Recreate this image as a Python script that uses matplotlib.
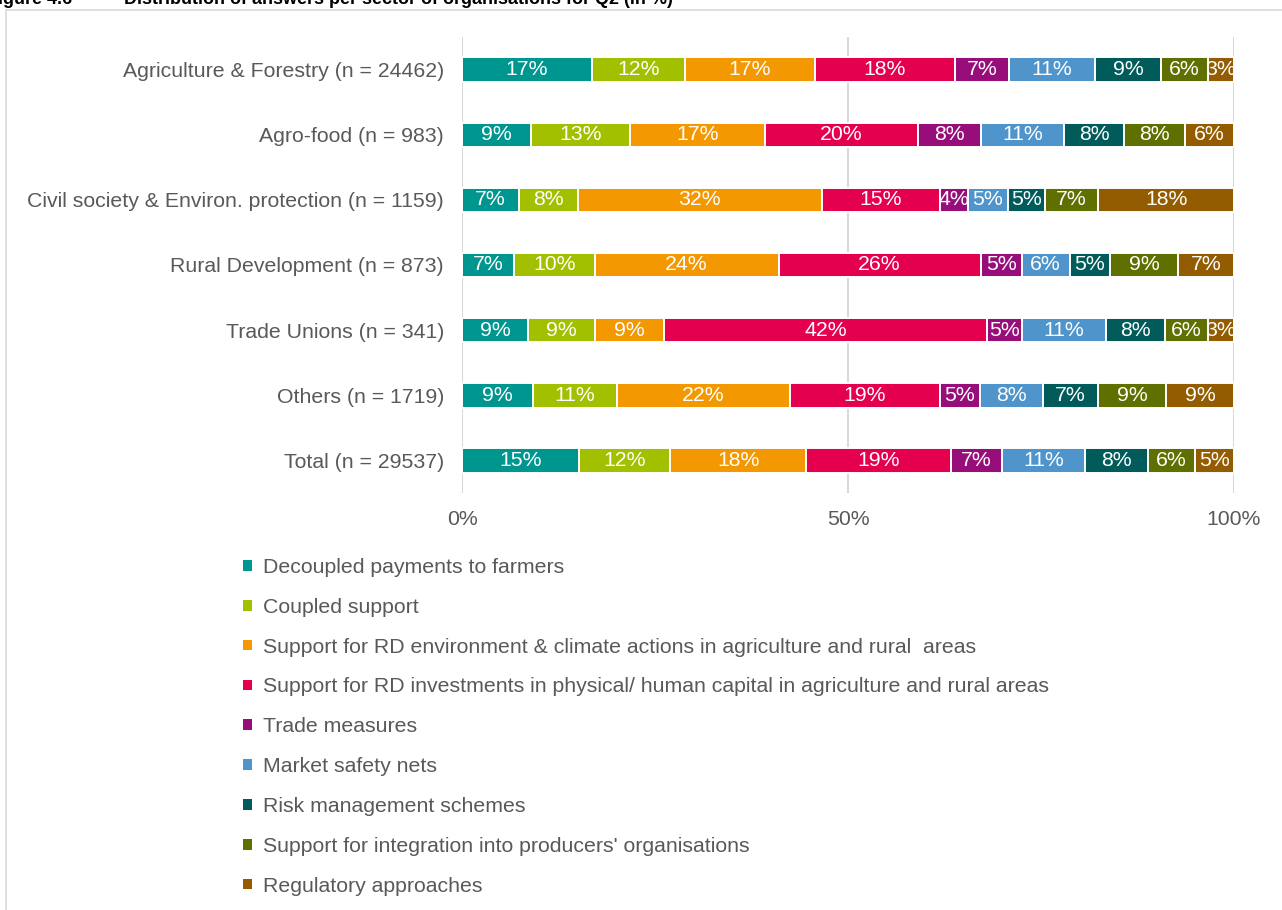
import matplotlib
matplotlib.use("Agg")
import matplotlib.pyplot as plt
from matplotlib.patches import Patch
from matplotlib.lines import Line2D
import numpy as np

plt.rcParams['font.family'] = ['Liberation Sans', 'DejaVu Sans']

categories = [
    "Agriculture & Forestry (n = 24462)",
    "Agro-food (n = 983)",
    "Civil society & Environ. protection (n = 1159)",
    "Rural Development (n = 873)",
    "Trade Unions (n = 341)",
    "Others (n = 1719)",
    "Total (n = 29537)",
]

series_names = [
    "Decoupled payments to farmers",
    "Coupled support",
    "Support for RD environment & climate actions in agriculture and rural  areas",
    "Support for RD investments in physical/ human capital in agriculture and rural areas",
    "Trade measures",
    "Market safety nets",
    "Risk management schemes",
    "Support for integration into producers' organisations",
    "Regulatory approaches",
]

colors = ["#009690", "#A2C000", "#F39800", "#E4004F", "#970E7B",
          "#4F95CB", "#005B5A", "#5F7000", "#935C00"]

# values per category (percent), in series order
decoupled   = [16.8,  9.0,  7.4,  6.8,  8.6,  9.2, 15.2]
coupled     = [12.1, 12.8,  7.6, 10.4,  8.6, 10.9, 11.8]
rd_env      = [16.8, 17.4, 31.6, 23.8,  9.0, 22.4, 17.6]
rd_invest   = [18.2, 19.9, 15.3, 26.2, 41.8, 19.4, 18.7]
trade       = [ 6.9,  8.1,  3.6,  5.3,  4.6,  5.2,  6.6]
safety_nets = [11.2, 10.8,  5.2,  6.2, 10.8,  8.2, 10.8]
risk_mgmt   = [ 8.6,  7.8,  4.8,  5.2,  7.6,  7.1,  8.1]
producers   = [ 6.0,  7.8,  6.9,  8.9,  5.6,  8.8,  6.1]
regulatory  = [ 3.4,  6.4, 17.6,  7.2,  3.4,  8.8,  5.1]

series = [decoupled, coupled, rd_env, rd_invest, trade, safety_nets,
          risk_mgmt, producers, regulatory]

xticks = [0, 50, 100]
xticklabels = ["0%", "50%", "100%"]

FS = 15.3
W, H = 1282, 910
fig = plt.figure(figsize=(W / 100, H / 100), dpi=100)
ax = fig.add_axes([462 / W, 1 - 493 / H, (1234 - 462) / W, (493 - 37) / H])

y = np.arange(len(categories))
left = np.zeros(len(categories))
handles = []
for name, vals, col in zip(series_names, series, colors):
    vals = np.array(vals, dtype=float)
    bars = ax.barh(y, vals, left=left, height=0.375, color=col,
                   edgecolor="white", linewidth=1.4, zorder=3)
    labels = [f"{v:.0f}%" for v in vals]
    txts = ax.bar_label(bars, labels=labels, label_type="center",
                        color="white", fontsize=FS, zorder=4)
    for t in txts:
        t.set_clip_on(True)
    left += vals
    handles.append(Patch(facecolor=col, edgecolor="none", label=name))

ax.set_xlim(0, 100)
ax.set_ylim(len(categories) - 0.5, -0.5)
ax.set_yticks(y)
ax.set_yticklabels(categories, fontsize=FS, color="#595959")
ax.set_xticks(xticks)
ax.set_xticklabels(xticklabels, fontsize=FS, color="#595959")
ax.tick_params(axis="both", length=0)
ax.tick_params(axis="y", pad=13)
ax.tick_params(axis="x", pad=12)
for s in ax.spines.values():
    s.set_visible(False)
ax.xaxis.grid(True, color="#D9D9D9", linewidth=1.5, zorder=0)
ax.set_axisbelow(True)

leg = fig.legend(handles=handles, loc="upper left",
                 bbox_to_anchor=(243 / W, 1 - 558 / H),
                 frameon=False, fontsize=FS, ncol=1,
                 handlelength=0.4, handleheight=0.4, handletextpad=0.55,
                 labelspacing=0.98, borderpad=0, borderaxespad=0)
for t in leg.get_texts():
    t.set_color("#595959")

# outer frame (partially cropped)
fig.add_artist(Line2D([5.5 / W, 1.01], [1 - 9.5 / H, 1 - 9.5 / H],
                      transform=fig.transFigure, color="#D9D9D9", linewidth=1.2))
fig.add_artist(Line2D([5.5 / W, 5.5 / W], [1 - 9.5 / H, -0.01],
                      transform=fig.transFigure, color="#D9D9D9", linewidth=1.2))

# cropped caption
fig.text(72 / W, 1 - 4 / H, "Figure 4.6", fontsize=13, fontweight="bold",
         va="baseline", ha="right", color="black")
fig.text(124 / W, 1 - 4 / H,
         "Distribution of answers per sector of organisations for Q2 (in %)",
         fontsize=13, fontweight="bold", va="baseline", ha="left", color="black")

fig.savefig("out.png", dpi=100)
